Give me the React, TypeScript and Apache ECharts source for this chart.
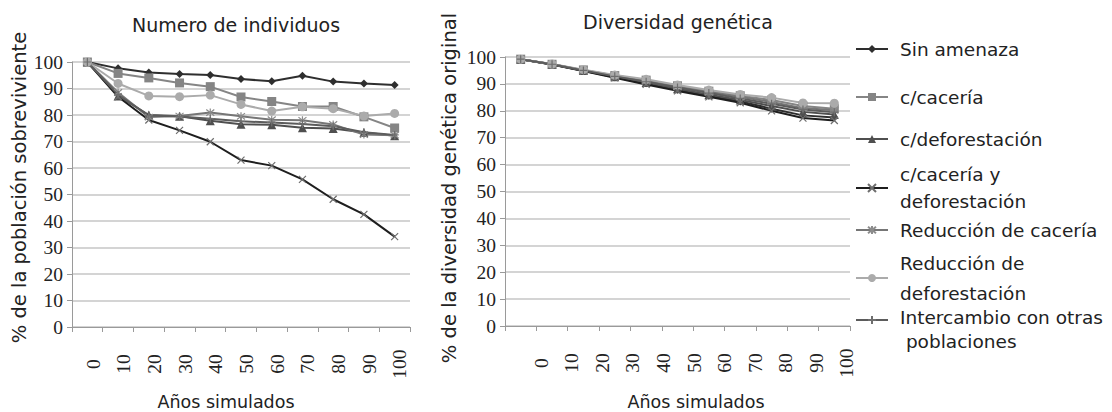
import React, { useEffect, useRef } from "react";
import * as echarts from "echarts";

// ---- Data ----
const years = ["0", "10", "20", "30", "40", "50", "60", "70", "80", "90", "100"];

const seriesNames = [
  "Sin amenaza",
  "c/cacería",
  "c/deforestación",
  "c/cacería y deforestación",
  "Reducción de cacería",
  "Reducción de deforestación",
  "Intercambio con otras poblaciones",
];

// Numero de individuos (% de la población sobreviviente)
const popSinAmenaza = [100, 97.6, 96.0, 95.5, 95.1, 93.6, 92.7, 94.8, 92.6, 91.9, 91.3];
const popCaceria = [100, 95.7, 94.0, 92.1, 90.7, 86.8, 85.1, 83.2, 83.2, 79.3, 75.1];
const popDeforestacion = [100, 87.2, 80.0, 79.5, 77.8, 76.5, 76.3, 75.2, 74.9, 73.4, 72.2];
const popCaceriaDefor = [100, 86.9, 78.1, 74.2, 69.9, 63.0, 60.9, 55.7, 48.2, 42.5, 34.1];
const popRedCaceria = [100, 88.5, 79.2, 79.6, 80.9, 79.5, 78.2, 78.0, 76.4, 72.6, 72.4];
const popRedDefor = [100, 91.9, 87.2, 86.9, 87.5, 84.0, 81.5, 83.1, 82.4, 79.6, 80.6];
const popIntercambio = [100, 87.6, 79.8, 79.4, 78.6, 77.6, 77.2, 76.6, 75.8, 73.5, 72.5];

// Diversidad genética (% de la diversidad genética original)
const divSinAmenaza = [99.2, 97.2, 94.9, 92.5, 90.2, 87.8, 85.6, 83.5, 80.8, 78.3, 77.5];
const divCaceria = [99.2, 97.3, 95.2, 93.1, 91.4, 89.3, 87.3, 85.6, 84.0, 81.8, 80.8];
const divDeforestacion = [99.2, 97.3, 95.0, 92.7, 90.5, 88.2, 86.0, 84.0, 81.8, 79.6, 78.6];
const divCaceriaDefor = [99.2, 97.2, 94.8, 92.3, 89.8, 87.4, 85.2, 83.0, 80.0, 77.3, 76.4];
const divRedCaceria = [99.2, 97.3, 95.1, 93.0, 91.1, 89.0, 87.0, 85.2, 83.3, 81.0, 80.2];
const divRedDefor = [99.2, 97.4, 95.3, 93.3, 91.7, 89.6, 87.7, 86.1, 84.9, 82.9, 82.8];
const divIntercambio = [99.2, 97.3, 95.0, 92.8, 90.8, 88.7, 86.6, 84.6, 82.6, 80.5, 79.5];

const popData = [popSinAmenaza, popCaceria, popDeforestacion, popCaceriaDefor, popRedCaceria, popRedDefor, popIntercambio];
const divData = [divSinAmenaza, divCaceria, divDeforestacion, divCaceriaDefor, divRedCaceria, divRedDefor, divIntercambio];

// ---- Styles ----
const SYM_X = "path://M0,0L10,10M10,0L0,10";
const SYM_AST = "path://M1,1L9,9M9,1L1,9M5,0L5,10";
const SYM_PLUS = "path://M5,0L5,10M0,5L10,5";

const styles = [
  { color: "#2e2e2e", marker: "#2e2e2e", symbol: "diamond", size: 8, stroke: false },
  { color: "#858585", marker: "#858585", symbol: "rect", size: 9, stroke: false },
  { color: "#4f4f4f", marker: "#4f4f4f", symbol: "triangle", size: 9, stroke: false },
  { color: "#1e1e1e", marker: "#6e6e6e", symbol: SYM_X, size: 7, stroke: true },
  { color: "#767676", marker: "#8c8c8c", symbol: SYM_AST, size: 8, stroke: true },
  { color: "#ababab", marker: "#ababab", symbol: "circle", size: 9, stroke: false },
  { color: "#5c5c5c", marker: "#6e6e6e", symbol: SYM_PLUS, size: 8, stroke: true },
];

const SANS = "'DejaVu Sans', sans-serif";
const SERIF = "'Liberation Serif', 'Times New Roman', serif";
const TXT = "#222222";
const AXIS = "#9a9a9a";
const GRID = "#c6c6c6";
const LEGEND_FS = 18.5;

const legendLabels: Record<string, string> = {
  "c/cacería y deforestación": "c/cacería y\ndeforestación",
  "Reducción de deforestación": "Reducción de\ndeforestación",
  "Intercambio con otras poblaciones": "{s| }\n{t|Intercambio con otras}\n{t| poblaciones}",
};

function makeSeries(name: string, data: number[], axisIdx: number, st: any) {
  return {
    name,
    type: "line",
    xAxisIndex: axisIdx,
    yAxisIndex: axisIdx,
    data,
    symbol: st.symbol,
    symbolSize: st.size,
    showSymbol: true,
    showAllSymbol: true,
    silent: true,
    lineStyle: { color: st.color, width: 2 },
    itemStyle: st.stroke
      ? { color: st.marker, borderColor: st.marker, borderWidth: 1.2 }
      : { color: st.marker, borderWidth: 0 },
    emphasis: { disabled: true },
  };
}

function valueAxis(gridIndex: number, name: string, nameGap: number, pad: number[]) {
  return {
    type: "value",
    gridIndex,
    min: 0,
    max: 100,
    interval: 10,
    axisLine: { show: true, lineStyle: { color: AXIS, width: 1 } },
    axisTick: { show: true, length: 5, lineStyle: { color: AXIS } },
    splitLine: { show: true, lineStyle: { color: GRID, width: 1.5 } },
    axisLabel: { fontFamily: SERIF, fontSize: 19.5, color: TXT, margin: 9 },
    name,
    nameLocation: "middle",
    nameGap,
    nameTextStyle: { fontFamily: SANS, fontSize: 19.5, color: TXT, padding: pad },
  };
}

function hiddenValueAxis(gridIndex: number) {
  return { type: "value", gridIndex, min: 0, max: 100, show: false };
}

function catAxis(gridIndex: number, nameGap: number, pad: number[]) {
  return {
    type: "category",
    gridIndex,
    data: years,
    boundaryGap: true,
    axisLine: { show: true, lineStyle: { color: AXIS, width: 1 } },
    axisTick: { show: true, length: 5, interval: 0, lineStyle: { color: AXIS } },
    axisLabel: { show: false },
    splitLine: { show: false },
    name: "Años simulados",
    nameLocation: "middle",
    nameGap,
    nameTextStyle: { fontFamily: SANS, fontSize: 17.5, color: TXT, padding: pad },
  };
}

function labelAxis(gridIndex: number) {
  return {
    type: "category",
    gridIndex,
    data: years,
    boundaryGap: true,
    axisLine: { show: false },
    axisTick: { show: false },
    splitLine: { show: false },
    axisLabel: {
      show: true,
      interval: 0,
      rotate: 90,
      margin: 37,
      align: "center",
      verticalAlign: "middle",
      fontFamily: SERIF,
      fontSize: 19.5,
      color: TXT,
    },
  };
}

const legendSpecs = [
  { top: 37.5, lh: 23 },
  { top: 85.5, lh: 23 },
  { top: 127.5, lh: 23 },
  { top: 161, lh: 27 },
  { top: 218.5, lh: 23 },
  { top: 248, lh: 30 },
  { top: 287, lh: 24 },
];

export default function App() {
  const ref = useRef<HTMLDivElement>(null);

  useEffect(() => {
    if (!ref.current) return;
    const chart = echarts.init(ref.current, undefined, { renderer: "svg" });

    const series: any[] = [];
    seriesNames.forEach((n, i) => series.push(makeSeries(n, popData[i], 0, styles[i])));
    seriesNames.forEach((n, i) => series.push(makeSeries(n, divData[i], 2, styles[i])));

    const legends = seriesNames.map((n, i) => ({
      data: [n],
      orient: "vertical",
      left: 855,
      top: legendSpecs[i].top,
      padding: 0,
      itemWidth: 32,
      itemHeight: 10,
      selectedMode: false,
      formatter: (name: string) => legendLabels[name] || name,
      textStyle: {
        fontFamily: SANS,
        fontSize: LEGEND_FS,
        color: TXT,
        lineHeight: legendSpecs[i].lh,
        padding: [0, 0, 0, 7],
        rich: {
          s: { fontSize: 1, lineHeight: 18 },
          t: { fontFamily: SANS, fontSize: LEGEND_FS, color: TXT, lineHeight: 24 },
        },
      },
    }));

    const gridBase = { containLabel: false, outerBoundsMode: "none" };

    chart.setOption({
      animation: false,
      backgroundColor: "#ffffff",
      title: [
        {
          text: "Numero de individuos",
          left: 132,
          top: 13.5,
          padding: 0,
          textStyle: { fontFamily: SANS, fontSize: 19, fontWeight: "normal", color: TXT, lineHeight: 23 },
        },
        {
          text: "Diversidad genética",
          left: 583,
          top: 10,
          padding: 0,
          textStyle: { fontFamily: SANS, fontSize: 19, fontWeight: "normal", color: TXT, lineHeight: 23 },
        },
      ],
      legend: legends,
      grid: [
        { ...gridBase, left: 72, right: 702, top: 62, bottom: 85 },
        { ...gridBase, left: 78, right: 697, top: 62, bottom: 85 },
        { ...gridBase, left: 505, right: 262, top: 57, bottom: 86 },
        { ...gridBase, left: 526, right: 250, top: 57, bottom: 86 },
      ],
      xAxis: [
        catAxis(0, 66, [0, 30, 0, 0]),
        labelAxis(1),
        catAxis(2, 67, [0, 0, 0, 37]),
        labelAxis(3),
      ],
      yAxis: [
        valueAxis(0, "% de la población sobreviviente", 39, [0, 0, 0, 14]),
        hiddenValueAxis(1),
        valueAxis(2, "% de la diversidad genética original", 46, [0, 0, 0, 7]),
        hiddenValueAxis(3),
      ],
      series,
    });

    return () => chart.dispose();
  }, []);

  return (
    <div
      ref={ref}
      style={{ position: "fixed", left: 0, top: 0, width: 1112, height: 412, background: "#fff" }}
    />
  );
}
